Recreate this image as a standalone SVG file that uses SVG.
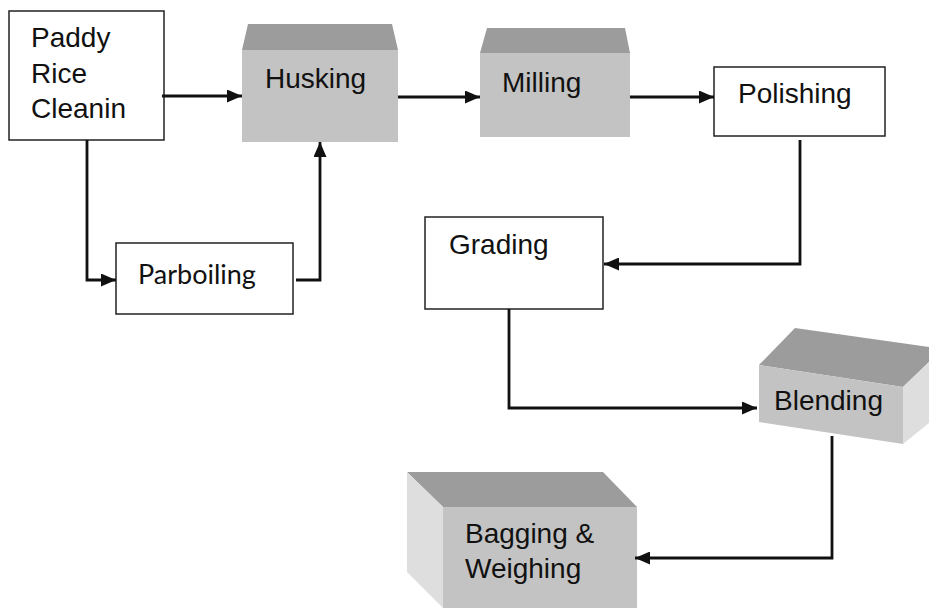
<svg xmlns="http://www.w3.org/2000/svg" width="929" height="608" viewBox="0 0 929 608">
<defs>
<style>
.box{fill:#fff;stroke:#222;stroke-width:1.5}
.front{fill:#c3c3c3}
.top{fill:#9c9c9c}
.side{fill:#dedede}
.t{font-family:"Liberation Sans",Arial,sans-serif;font-size:28px;fill:#111}
.c{font-family:"Lato","Open Sans",sans-serif;font-size:27px;fill:#111}
.conn{fill:none;stroke:#111;stroke-width:2.8;stroke-linejoin:miter}
</style>
<marker id="ah" viewBox="0 0 15 13" refX="15" refY="6.5" markerWidth="15" markerHeight="13" markerUnits="userSpaceOnUse" orient="auto" preserveAspectRatio="none">
<path d="M0,0 L15,6.5 L0,13 z" fill="#111"/>
</marker>
</defs>
<rect width="929" height="608" fill="#fff"/>
<g id="paddy">
<rect class="box" x="9" y="11" width="155" height="129"/>
<text class="t" x="31" y="47">Paddy</text>
<text class="t" x="31" y="83">Rice</text>
<text class="t" x="31" y="118">Cleanin</text>
</g>
<g id="husking">
<polygon class="top" points="248,24 392,24 398,50 242,50"/>
<rect class="front" x="242" y="50" width="156" height="92"/>
<text class="t" x="265" y="88">Husking</text>
</g>
<g id="milling">
<polygon class="top" points="487,28 625,28 630,53 480,53"/>
<rect class="front" x="480" y="53" width="150" height="84"/>
<text class="t" x="502" y="92">Milling</text>
</g>
<g id="polishing">
<rect class="box" x="714" y="67" width="171" height="69"/>
<text class="t" x="738" y="103">Polishing</text>
</g>
<g id="parboiling">
<rect class="box" x="116" y="243" width="177" height="71"/>
<text class="c" x="138" y="284">Parboiling</text>
</g>
<g id="grading">
<rect class="box" x="425" y="217" width="178" height="92"/>
<text class="t" x="449" y="254">Grading</text>
</g>
<g id="blending">
<polygon class="top" points="759,365 795,328 929,347 929,362 903,387"/>
<polygon class="side" points="903,387 929,362 929,423 903,444"/>
<polygon class="front" points="759,365 903,387 903,444 759,422"/>
<text class="t" x="774" y="410">Blending</text>
</g>
<g id="bagging">
<polygon class="top" points="407,472 603,472 637,507 443,507"/>
<polygon class="side" points="407,472 443,507 443,608 407,572"/>
<rect class="front" x="443" y="507" width="194" height="101"/>
<text class="t" x="465" y="543">Bagging &amp;</text>
<text class="t" x="465" y="578">Weighing</text>
</g>
<g id="connectors">
<path class="conn" marker-end="url(#ah)" d="M162,96 H242"/>
<path class="conn" marker-end="url(#ah)" d="M87,140 V280 H116"/>
<path class="conn" marker-end="url(#ah)" d="M296,280 H320 V142"/>
<path class="conn" marker-end="url(#ah)" d="M398,97 H480"/>
<path class="conn" marker-end="url(#ah)" d="M630,97 H714"/>
<path class="conn" marker-end="url(#ah)" d="M800,140 V264 H604"/>
<path class="conn" marker-end="url(#ah)" d="M509,309 V408 H757"/>
<path class="conn" marker-end="url(#ah)" d="M832,436 V558 H635"/>
</g>
</svg>
